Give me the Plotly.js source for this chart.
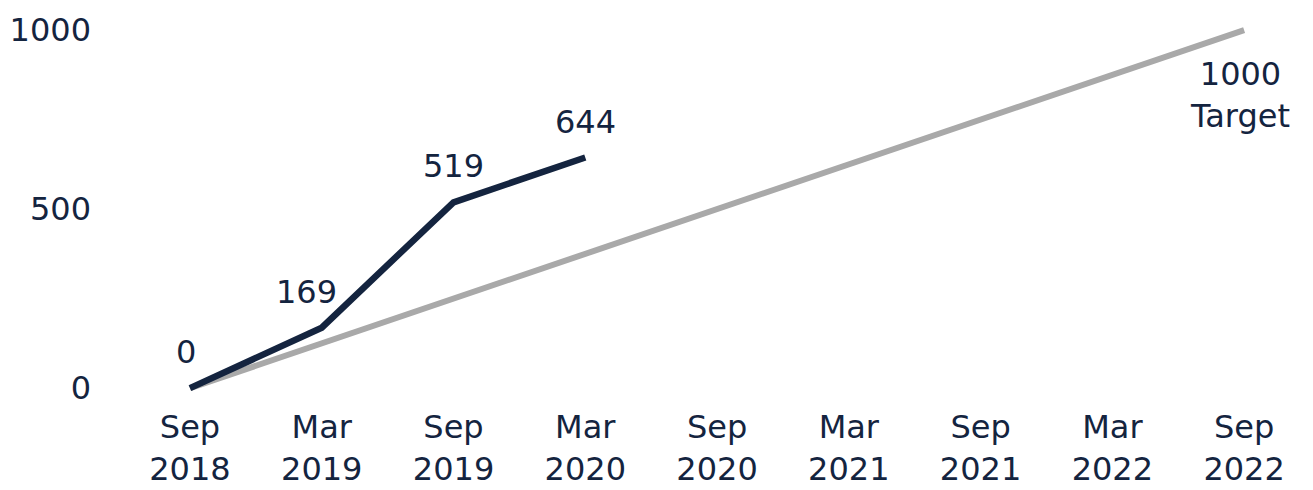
<!DOCTYPE html>
<html>
<head>
<meta charset="utf-8">
<script src="https://cdn.plot.ly/plotly-3.0.1.min.js"></script>
<style>html,body{margin:0;padding:0;background:#fff;}#chart{width:1313px;height:490px;}</style>
</head>
<body>
<div id="chart"></div>
<script>
const categories = ["Sep<br>2018","Mar<br>2019","Sep<br>2019","Mar<br>2020","Sep<br>2020","Mar<br>2021","Sep<br>2021","Mar<br>2022","Sep<br>2022"];
const actualValues = [0, 169, 519, 644];
const targetCats = ["Sep<br>2018","Sep<br>2022"];
const targetValues = [0, 1000];
const targetLabel = "1000<br>Target";
const yTicks = [0, 500, 1000];

const navy = "#14243f";
const fontFam = "DejaVu Sans, Verdana, sans-serif";
const fs = 32;

const traces = [
  {x: targetCats, y: targetValues, type: "scatter", mode: "lines",
   line: {color: "#a9a9a9", width: 6}, hoverinfo: "skip"},
  {x: categories.slice(0, actualValues.length), y: actualValues, type: "scatter", mode: "lines",
   line: {color: navy, width: 6.5}, hoverinfo: "skip"}
];

const annotations = actualValues.map((v, i) => ({
  x: categories[i], y: v, xref: "x", yref: "y", text: String(v), showarrow: false,
  yshift: 36, xshift: (i === 1 ? -15 : (i === 0 ? -4 : 0)),
  font: {family: fontFam, size: fs, color: navy}
}));
annotations.push({
  x: targetCats[1], y: targetValues[1], xref: "x", yref: "y", text: targetLabel, showarrow: false,
  yshift: -65, xshift: -4, font: {family: fontFam, size: fs, color: navy}
});

const layout = {
  width: 1313, height: 490,
  margin: {l: 110, r: 3, t: 10, b: 85},
  paper_bgcolor: "#fff", plot_bgcolor: "#fff",
  showlegend: false,
  font: {family: fontFam, size: fs, color: navy},
  xaxis: {type: "category", categoryorder: "array", categoryarray: categories,
          tickvals: categories, ticktext: categories,
          range: [-0.607, 8.5], showgrid: false, zeroline: false, showline: false,
          ticks: "", tickfont: {family: fontFam, size: fs, color: navy}},
  yaxis: {range: [-47, 1056], tickvals: yTicks, ticktext: yTicks.map(String),
          showgrid: false, zeroline: false, showline: false, ticks: "",
          ticklabelstandoff: 18,
          tickfont: {family: fontFam, size: fs, color: navy}},
  annotations: annotations
};

Plotly.newPlot("chart", traces, layout, {staticPlot: true, displayModeBar: false});
</script>
</body>
</html>
